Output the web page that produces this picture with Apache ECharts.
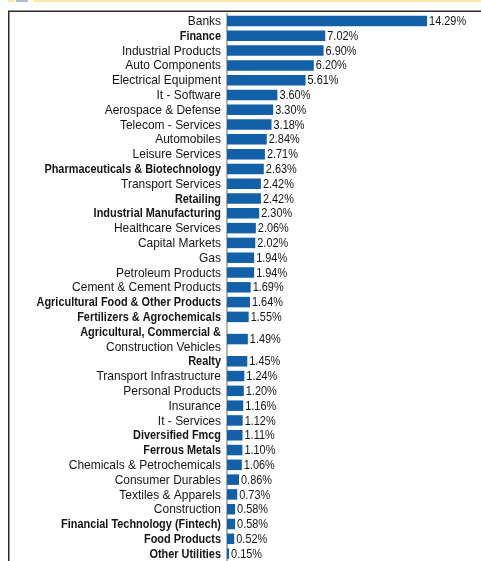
<!DOCTYPE html>
<html>
<head>
<meta charset="utf-8">
<title>Sector Allocation</title>
<script src="https://cdn.jsdelivr.net/npm/echarts@6/dist/echarts.min.js"></script>
<style>
  html, body { margin: 0; padding: 0; background: #ffffff; }
  #chart { width: 481px; height: 561px; }
</style>
</head>
<body>
<div id="chart"></div>
<script>
// Sector names (a "\n" splits a long name over two lines)
const categories = [
  'Banks', 'Finance', 'Industrial Products', 'Auto Components', 'Electrical Equipment',
  'It - Software', 'Aerospace & Defense', 'Telecom - Services', 'Automobiles', 'Leisure Services',
  'Pharmaceuticals & Biotechnology', 'Transport Services', 'Retailing', 'Industrial Manufacturing',
  'Healthcare Services', 'Capital Markets', 'Gas', 'Petroleum Products', 'Cement & Cement Products',
  'Agricultural Food & Other Products', 'Fertilizers & Agrochemicals',
  'Agricultural, Commercial &\nConstruction Vehicles', 'Realty', 'Transport Infrastructure',
  'Personal Products', 'Insurance', 'It - Services', 'Diversified Fmcg', 'Ferrous Metals',
  'Chemicals & Petrochemicals', 'Consumer Durables', 'Textiles & Apparels', 'Construction',
  'Financial Technology (Fintech)', 'Food Products', 'Other Utilities'
];

// Share of net assets, in percent
const weights = [
  14.29, 7.02, 6.90, 6.20, 5.61,
  3.60, 3.30, 3.18, 2.84, 2.71,
  2.63, 2.42, 2.42, 2.30,
  2.06, 2.02, 1.94, 1.94, 1.69,
  1.64, 1.55,
  1.49, 1.45, 1.24,
  1.20, 1.16, 1.12, 1.11, 1.10,
  1.06, 0.86, 0.73, 0.58,
  0.58, 0.52, 0.15
];

// Label lines set in bold
const boldLines = new Set([
  'Finance', 'Pharmaceuticals & Biotechnology', 'Retailing', 'Industrial Manufacturing',
  'Agricultural Food & Other Products', 'Fertilizers & Agrochemicals', 'Agricultural, Commercial &',
  'Realty', 'Diversified Fmcg', 'Ferrous Metals', 'Financial Technology (Fintech)',
  'Food Products', 'Other Utilities'
]);

const FONT_FAMILY = '"Liberation Sans", Arial, sans-serif';
const FONT_SIZE = 13;
const LINE_HEIGHT = 15;
const NORMAL_SQUEEZE = 0.92; // horizontal condensing of regular sector names
const BOLD_SQUEEZE = 0.84;   // horizontal condensing of bold sector names
const VALUE_SQUEEZE = 0.84;  // horizontal condensing of percentages
const TEXT_COLOR = '#141414';
const BAR_COLOR = '#1260a8';

// Each label line takes one row slot; a bar sits at the middle of its slots
let slotCursor = 0;
const slotCenters = categories.map(name => {
  const lines = name.split('\n').length;
  const center = slotCursor + (lines - 1) / 2;
  slotCursor += lines;
  return center;
});
const totalSlots = slotCursor;

const seriesData = weights.map((v, i) => [v, slotCenters[i], i]);

function renderItem(params, api) {
  const v = api.value(0);
  const y = api.value(1);
  const idx = api.value(2);
  const base = api.coord([0, y]);
  const tip = api.coord([v, y]);
  const slotH = api.size([0, 1])[1];
  const barH = slotH * 0.71;

  const children = [
    {
      type: 'rect',
      shape: { x: base[0], y: base[1] - barH / 2, width: tip[0] - base[0], height: barH },
      style: { fill: BAR_COLOR }
    },
    {
      type: 'text',
      x: tip[0] + 2, y: base[1] + 0.5,
      scaleX: VALUE_SQUEEZE,
      style: {
        x: 0, y: 0,
        text: v.toFixed(2) + '%',
        font: FONT_SIZE + 'px ' + FONT_FAMILY, fill: TEXT_COLOR,
        align: 'left', verticalAlign: 'middle'
      }
    }
  ];

  // Sector name, one text element per line so each line keeps its own weight
  const lines = categories[idx].split('\n');
  lines.forEach((line, k) => {
    const bold = boldLines.has(line);
    const offset = (k - (lines.length - 1) / 2) * LINE_HEIGHT;
    children.push({
      type: 'text',
      x: base[0] - 6, y: base[1] + 0.5 + offset,
      scaleX: bold ? BOLD_SQUEEZE : NORMAL_SQUEEZE,
      style: {
        x: 0, y: 0,
        text: line,
        font: (bold ? 'bold ' : '') + FONT_SIZE + 'px ' + FONT_FAMILY,
        fill: TEXT_COLOR,
        align: 'right', verticalAlign: 'middle'
      }
    });
  });

  return { type: 'group', children: children };
}

const chart = echarts.init(document.getElementById('chart'), null, { renderer: 'canvas' });

chart.setOption({
  animation: false,
  backgroundColor: '#ffffff',
  grid: { left: 227, top: 13.6, width: 252, height: 548.8, containLabel: false },
  xAxis: { type: 'value', min: 0, max: 18, show: false },
  yAxis: {
    type: 'value', inverse: true, min: -0.5, max: totalSlots - 0.5,
    axisLine: { show: true, onZero: false, lineStyle: { color: '#9a9a9a', width: 1.5 } },
    axisTick: { show: false }, axisLabel: { show: false }, splitLine: { show: false }
  },
  graphic: [
    { type: 'rect', shape: { x: 8, y: 0, width: 7, height: 2 }, style: { fill: '#fde9a8' } },
    { type: 'rect', shape: { x: 16, y: 0, width: 12, height: 2 }, style: { fill: '#a3bddb' } },
    { type: 'rect', shape: { x: 33, y: 0, width: 448, height: 2 }, style: { fill: '#fde9a8' } },
    { type: 'line', shape: { x1: 8, y1: 11.25, x2: 481, y2: 11.25 }, style: { stroke: '#2a2a2a', lineWidth: 1.5 } },
    { type: 'line', shape: { x1: 8.75, y1: 11, x2: 8.75, y2: 561 }, style: { stroke: '#2a2a2a', lineWidth: 1.5 } }
  ],
  series: [{
    type: 'custom',
    renderItem: renderItem,
    encode: { x: 0, y: 1 },
    data: seriesData
  }]
});
</script>
</body>
</html>
